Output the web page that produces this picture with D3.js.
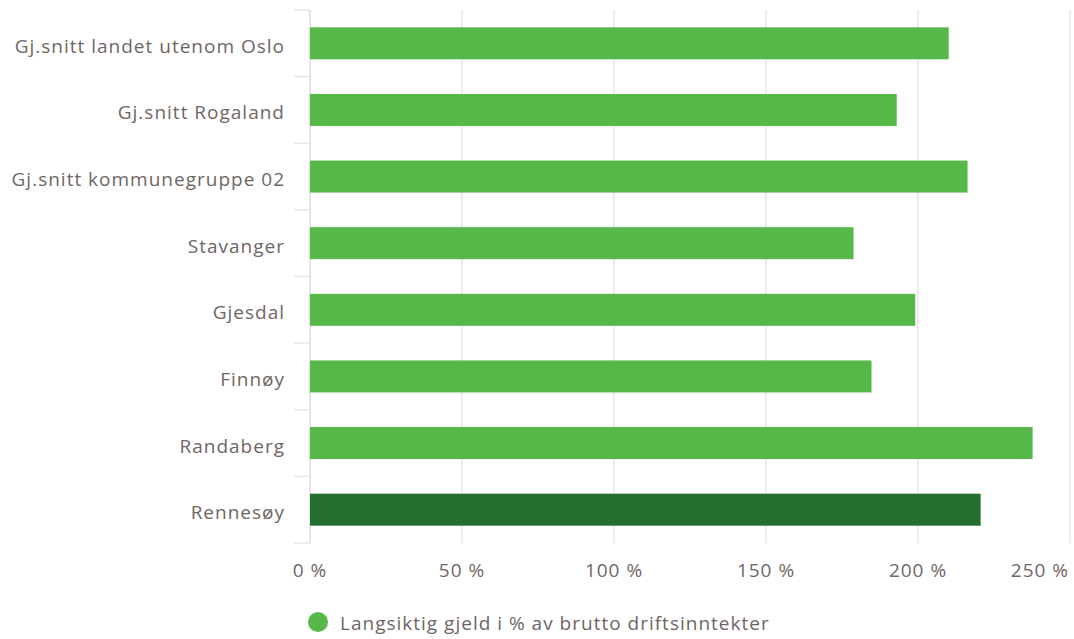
<!DOCTYPE html>
<html><head><meta charset="utf-8">
<script src="https://cdn.jsdelivr.net/npm/d3@7"></script>
<style>body{margin:0;background:#fff;} text{font-family:"Open Sans",sans-serif;letter-spacing:1px;}</style>
</head><body>
<svg id="c" width="1074" height="639"></svg>
<script>
const categories = ["Gj.snitt landet utenom Oslo","Gj.snitt Rogaland","Gj.snitt kommunegruppe 02","Stavanger","Gjesdal","Finnøy","Randaberg","Rennesøy"];
const values = [210.1, 193.0, 216.3, 178.8, 199.1, 184.7, 237.7, 220.6];
const highlight = ["Rennesøy"];
const xTicks = [0,50,100,150,200,250];
const legendLabel = "Langsiktig gjeld i % av brutto driftsinntekter";

const svg = d3.select("#c");
const m = {left:310, right:1070, top:10, bottom:543};
const x = d3.scaleLinear().domain([0,250]).range([m.left, m.right]);
const step = (m.bottom-m.top)/categories.length;
const textCol = "#6f6663";

// gridlines
svg.append("g").selectAll("line").data(xTicks.slice(1)).join("line")
  .attr("x1", d=>x(d)).attr("x2", d=>x(d)).attr("y1", m.top).attr("y2", m.bottom)
  .attr("stroke","#e6e6e6").attr("stroke-width",1.5);

// y-axis line and band ticks
svg.append("line").attr("x1",m.left).attr("x2",m.left).attr("y1",m.top).attr("y2",m.bottom)
  .attr("stroke","#dddddd").attr("stroke-width",1.5);
svg.append("g").selectAll("line").data(d3.range(categories.length+1)).join("line")
  .attr("x1",294).attr("x2",m.left).attr("y1",d=>m.top+d*step).attr("y2",d=>m.top+d*step)
  .attr("stroke","#e6e6e6").attr("stroke-width",1.5);

// bars
svg.append("g").selectAll("rect").data(categories).join("rect")
  .attr("x", x(0)).attr("y", (d,i)=>m.top+i*step+step/2-16)
  .attr("width", (d,i)=>x(values[i])-x(0)).attr("height", 32)
  .attr("fill", d=>highlight.includes(d)?"#236f2f":"#57b84a");

// category labels
svg.append("g").selectAll("text").data(categories).join("text")
  .attr("x", 285).attr("y", (d,i)=>m.top+i*step+step/2)
  .attr("dy","0.5em").attr("text-anchor","end")
  .attr("fill",textCol).attr("font-size","19px").text(d=>d);

// x tick labels
svg.append("g").selectAll("text").data(xTicks).join("text")
  .attr("x", (d,i)=> i===xTicks.length-1 ? x(d)-1 : x(d)).attr("y", 577)
  .attr("text-anchor",(d,i)=> i===xTicks.length-1 ? "end" : "middle")
  .attr("fill",textCol).attr("font-size","19px").text(d=>d+" %");

// legend
svg.append("circle").attr("cx",318).attr("cy",622).attr("r",10).attr("fill","#57b84a");
svg.append("text").attr("x",340).attr("y",622).attr("dy","0.4em")
  .attr("fill",textCol).attr("font-size","19px").text(legendLabel);
</script>
</body></html>
